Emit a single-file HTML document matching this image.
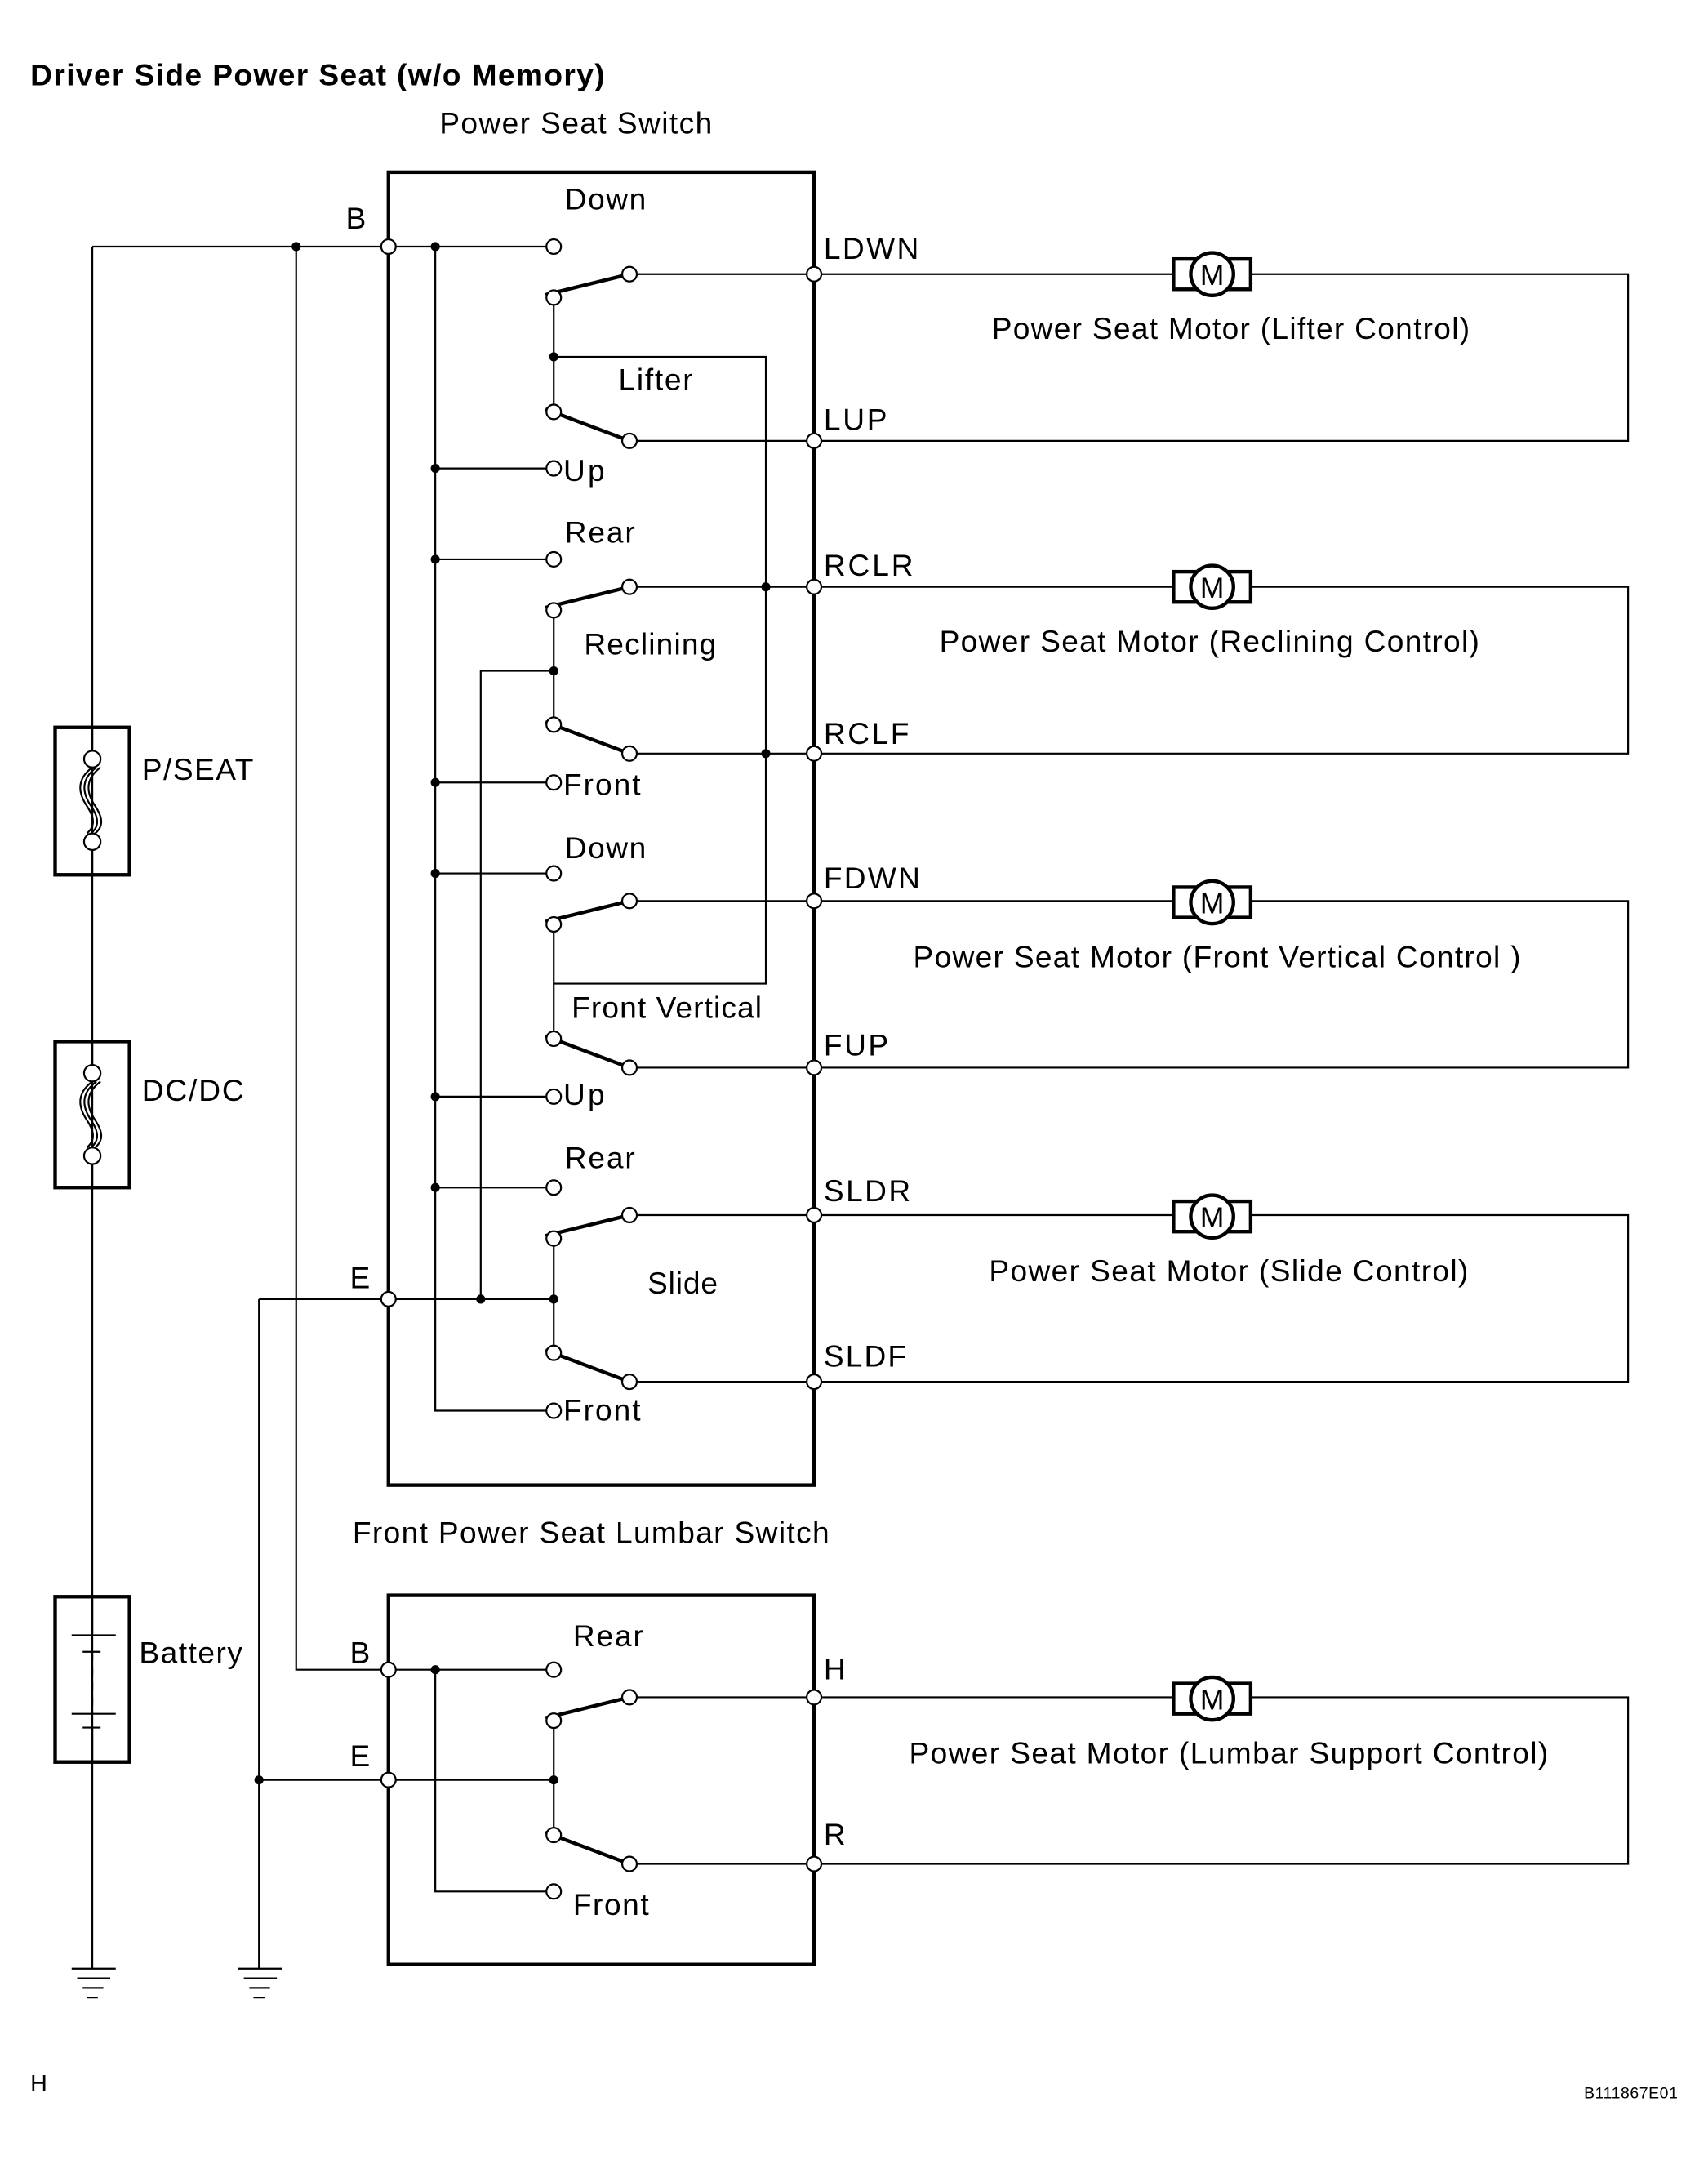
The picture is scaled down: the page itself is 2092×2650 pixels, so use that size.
<!DOCTYPE html>
<html><head><meta charset="utf-8"><style>
html,body{margin:0;padding:0;background:#fff}
svg{display:block}
text{font-family:"Liberation Sans",Arial,sans-serif;font-size:22px;fill:#000}
.w{stroke:#000;stroke-width:1.3;fill:none}
.b{stroke:#000;stroke-width:2.6;fill:none}
.a{stroke:#000;stroke-width:2.6;fill:none}
.t{stroke:#000;stroke-width:1.3;fill:#fff}
.d{fill:#000}
</style></head><body>
<svg width="2092" height="2650" viewBox="0 0 1240 1570.8" xmlns="http://www.w3.org/2000/svg">
<text x="22" y="62" textLength="417" style="font-weight:bold;font-size:22px">Driver Side Power Seat (w/o Memory)</text>
<text x="319" y="97" textLength="198">Power Seat Switch</text>
<text x="256" y="1120" textLength="346">Front Power Seat Lumbar Switch</text>
<text x="22" y="1518" style="font-size:17px">H</text>
<text x="1150" y="1523" textLength="68" style="font-size:11.5px">B111867E01</text>

<rect class="b" x="282" y="125" width="309" height="953"/>
<rect class="b" x="282" y="1158" width="309" height="268"/>

<path class="w" d="M67 179 H402 M67 179 V1429 M215 179 V1212 H402 M316 179 V1024 H402 M316 1212 V1373 H402"/>
<path class="w" d="M188 943 H402 M188 943 V1429 M188 1292 H402"/>
<path class="w" d="M316 340 H402 M316 406 H402 M316 568 H402 M316 634 H402 M316 796 H402 M316 862 H402"/>
<path class="w" d="M402 259 H556 V547 M402 487 H349 V943 M556 547 V714 H402"/>

<path class="w" d="M402 216 V299 M402 443 V526 M402 671 V754 M402 899 V982 M402 1249 V1332"/>
<path class="a" d="M396 214 L457 199 M396 297 L457 320 M396 441 L457 426 M396 524 L457 547 M396 669 L457 654 M396 752 L457 775 M396 897 L457 882 M396 980 L457 1003 M396 1247 L457 1232 M396 1330 L457 1353"/>

<path class="w" d="M457 199 H1182 V320 H457 M457 426 H1182 V547 H457 M457 654 H1182 V775 H457 M457 882 H1182 V1003 H457 M457 1232 H1182 V1353 H457"/>

<g><rect x="852" y="188" width="56" height="22" fill="#fff" stroke="#000" stroke-width="2.6"/><circle cx="880" cy="199" r="15.5" fill="#fff" stroke="#000" stroke-width="2.6"/><text x="880" y="207" text-anchor="middle" style="font-size:21px">M</text></g>
<g transform="translate(0,227)"><rect x="852" y="188" width="56" height="22" fill="#fff" stroke="#000" stroke-width="2.6"/><circle cx="880" cy="199" r="15.5" fill="#fff" stroke="#000" stroke-width="2.6"/><text x="880" y="207" text-anchor="middle" style="font-size:21px">M</text></g>
<g transform="translate(0,456)"><rect x="852" y="188" width="56" height="22" fill="#fff" stroke="#000" stroke-width="2.6"/><circle cx="880" cy="199" r="15.5" fill="#fff" stroke="#000" stroke-width="2.6"/><text x="880" y="207" text-anchor="middle" style="font-size:21px">M</text></g>
<g transform="translate(0,684)"><rect x="852" y="188" width="56" height="22" fill="#fff" stroke="#000" stroke-width="2.6"/><circle cx="880" cy="199" r="15.5" fill="#fff" stroke="#000" stroke-width="2.6"/><text x="880" y="207" text-anchor="middle" style="font-size:21px">M</text></g>
<g transform="translate(0,1034)"><rect x="852" y="188" width="56" height="22" fill="#fff" stroke="#000" stroke-width="2.6"/><circle cx="880" cy="199" r="15.5" fill="#fff" stroke="#000" stroke-width="2.6"/><text x="880" y="207" text-anchor="middle" style="font-size:21px">M</text></g>

<text x="720" y="246" textLength="347">Power Seat Motor (Lifter Control)</text>
<text x="682" y="473" textLength="392">Power Seat Motor (Reclining Control)</text>
<text x="663" y="702" textLength="441">Power Seat Motor (Front Vertical Control )</text>
<text x="718" y="930" textLength="348">Power Seat Motor (Slide Control)</text>
<text x="660" y="1280" textLength="464">Power Seat Motor (Lumbar Support Control)</text>

<rect class="b" x="40" y="528" width="54" height="107" fill="#fff"/>
<rect class="b" x="40" y="756" width="54" height="106" fill="#fff"/>
<path class="w" d="M67 528 V545 M67 617 V635 M67 756 V773 M67 845 V862"/>
<path class="w" d="M70 557 C58 566,60 576,66 585 C72 594,72 600,66 605 M67 557 C55 566,57 576,63 585 C69 594,69 600,63 605 M73 557 C61 566,63 576,69 585 C75 594,75 600,69 605"/>
<path class="w" d="M70 785 C58 794,60 804,66 813 C72 822,72 828,66 833 M67 785 C55 794,57 804,63 813 C69 822,69 828,63 833 M73 785 C61 794,63 804,69 813 C75 822,75 828,69 833"/>
<ellipse class="t" cx="67" cy="551" rx="6" ry="6"/>
<ellipse class="t" cx="67" cy="611" rx="6" ry="6"/>
<ellipse class="t" cx="67" cy="779" rx="6" ry="6"/>
<ellipse class="t" cx="67" cy="839" rx="6" ry="6"/>
<text x="103" y="566" textLength="81">P/SEAT</text>
<text x="103" y="799" textLength="74">DC/DC</text>

<rect class="b" x="40" y="1159" width="54" height="120" fill="#fff"/>
<path class="w" d="M67 1159 V1187 M67 1254 V1279 M52 1187 H84 M60 1199 H73 M52 1244 H84 M60 1254 H73"/>
<path class="w" stroke-dasharray="6,5" d="M67 1199 V1244"/>
<text x="101" y="1207" textLength="75">Battery</text>

<path class="w" d="M52 1429 H84 M56 1436 H80 M60 1443 H75 M63 1450 H71"/>
<path class="w" d="M173 1429 H205 M177 1436 H201 M181 1443 H196 M184 1450 H192"/>

<g class="d">
<circle cx="215" cy="179" r="3.3"/><circle cx="316" cy="179" r="3.3"/><circle cx="316" cy="340" r="3.3"/><circle cx="316" cy="406" r="3.3"/><circle cx="316" cy="568" r="3.3"/><circle cx="316" cy="634" r="3.3"/><circle cx="316" cy="796" r="3.3"/><circle cx="316" cy="862" r="3.3"/>
<circle cx="402" cy="259" r="3.3"/><circle cx="402" cy="487" r="3.3"/><circle cx="402" cy="943" r="3.3"/><circle cx="349" cy="943" r="3.3"/><circle cx="556" cy="426" r="3.3"/><circle cx="556" cy="547" r="3.3"/>
<circle cx="316" cy="1212" r="3.3"/><circle cx="402" cy="1292" r="3.3"/><circle cx="188" cy="1292" r="3.3"/>
</g>

<g class="t">
<circle cx="282" cy="179" r="5.3"/><circle cx="282" cy="943" r="5.3"/><circle cx="282" cy="1212" r="5.3"/><circle cx="282" cy="1292" r="5.3"/>
<circle cx="591" cy="199" r="5.3"/><circle cx="591" cy="320" r="5.3"/><circle cx="591" cy="426" r="5.3"/><circle cx="591" cy="547" r="5.3"/><circle cx="591" cy="654" r="5.3"/><circle cx="591" cy="775" r="5.3"/><circle cx="591" cy="882" r="5.3"/><circle cx="591" cy="1003" r="5.3"/><circle cx="591" cy="1232" r="5.3"/><circle cx="591" cy="1353" r="5.3"/>
<circle cx="402" cy="179" r="5.3"/><circle cx="402" cy="216" r="5.3"/><circle cx="402" cy="299" r="5.3"/><circle cx="402" cy="340" r="5.3"/><circle cx="457" cy="199" r="5.3"/><circle cx="457" cy="320" r="5.3"/>
<circle cx="402" cy="406" r="5.3"/><circle cx="402" cy="443" r="5.3"/><circle cx="402" cy="526" r="5.3"/><circle cx="402" cy="568" r="5.3"/><circle cx="457" cy="426" r="5.3"/><circle cx="457" cy="547" r="5.3"/>
<circle cx="402" cy="634" r="5.3"/><circle cx="402" cy="671" r="5.3"/><circle cx="402" cy="754" r="5.3"/><circle cx="402" cy="796" r="5.3"/><circle cx="457" cy="654" r="5.3"/><circle cx="457" cy="775" r="5.3"/>
<circle cx="402" cy="862" r="5.3"/><circle cx="402" cy="899" r="5.3"/><circle cx="402" cy="982" r="5.3"/><circle cx="402" cy="1024" r="5.3"/><circle cx="457" cy="882" r="5.3"/><circle cx="457" cy="1003" r="5.3"/>
<circle cx="402" cy="1212" r="5.3"/><circle cx="402" cy="1249" r="5.3"/><circle cx="402" cy="1332" r="5.3"/><circle cx="402" cy="1373" r="5.3"/><circle cx="457" cy="1232" r="5.3"/><circle cx="457" cy="1353" r="5.3"/>
</g>

<text x="251" y="166">B</text>
<text x="254" y="935">E</text>
<text x="254" y="1207">B</text>
<text x="254" y="1282">E</text>
<text x="598" y="188" textLength="69">LDWN</text>
<text x="598" y="312" textLength="46">LUP</text>
<text x="598" y="418" textLength="65">RCLR</text>
<text x="598" y="540" textLength="62">RCLF</text>
<text x="598" y="645" textLength="70">FDWN</text>
<text x="598" y="766" textLength="47">FUP</text>
<text x="598" y="872" textLength="63">SLDR</text>
<text x="598" y="992" textLength="60">SLDF</text>
<text x="598" y="1219">H</text>
<text x="598" y="1339">R</text>

<text x="410" y="152" textLength="59">Down</text>
<text x="449" y="283" textLength="54">Lifter</text>
<text x="409" y="349" textLength="30">Up</text>
<text x="410" y="394" textLength="51">Rear</text>
<text x="424" y="475" textLength="96">Reclining</text>
<text x="409" y="577" textLength="56">Front</text>
<text x="410" y="623" textLength="59">Down</text>
<text x="415" y="739" textLength="138">Front Vertical</text>
<text x="409" y="802" textLength="30">Up</text>
<text x="410" y="848" textLength="51">Rear</text>
<text x="470" y="939" textLength="51">Slide</text>
<text x="409" y="1031" textLength="56">Front</text>
<text x="416" y="1195" textLength="51">Rear</text>
<text x="416" y="1390" textLength="55">Front</text>
</svg>
</body></html>
